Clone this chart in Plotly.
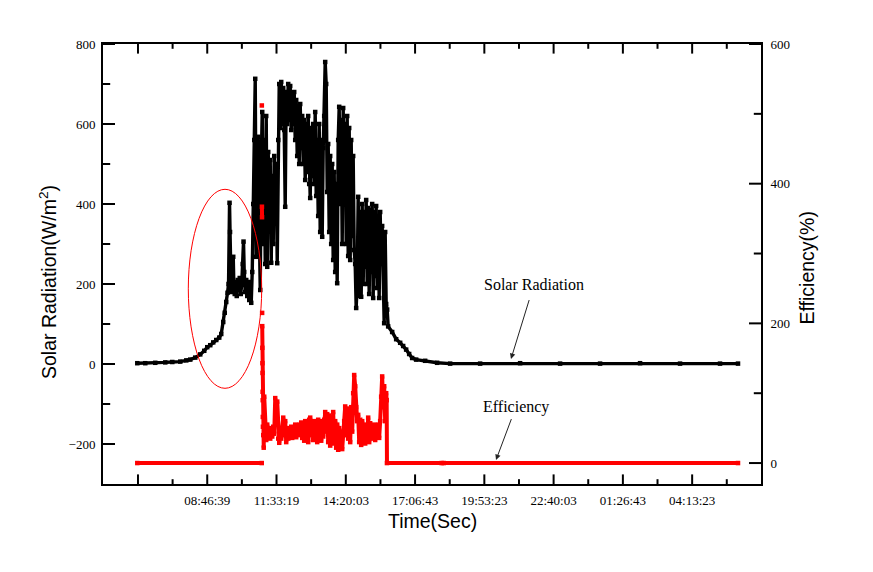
import plotly.graph_objects as go

# ---------------- data ----------------
LOG_START_S = 21500      # logging start, seconds after midnight (05:58:20)
LOG_STEP_S = 7.215       # logging interval, seconds

# Solar radiation (W/m2) : sample number -> value
rad_sample = [
    0, 160, 360, 560, 700, 860, 980, 1060, 1160, 1260,
    1340, 1400, 1460, 1520, 1580, 1640, 1680, 1720, 1750, 1780,
    1806, 1826, 1846, 1856, 1866, 1880, 1900, 1920, 1932, 1950,
    1970, 1990, 2010, 2030, 2050, 2070, 2090, 2110, 2126, 2140,
    2160, 2180, 2200, 2220, 2240, 2260, 2280,
    2300, 2320, 2340, 2360, 2380, 2400, 2420, 2440, 2460, 2480,
    2500, 2520, 2540, 2560, 2580, 2600, 2620, 2640, 2660, 2680,
    2700, 2720, 2740, 2760, 2780, 2800, 2820, 2840, 2860, 2880,
    2900, 2920, 2940, 2960, 2980, 3000, 3020, 3040, 3060, 3080,
    3100, 3120, 3140, 3160, 3180, 3200, 3220, 3240, 3260, 3280,
    3300, 3320, 3340, 3360, 3380, 3400, 3420, 3440, 3460, 3480,
    3500, 3520, 3540, 3560, 3580, 3600, 3620, 3640, 3660, 3680,
    3700, 3720, 3740, 3760, 3780, 3800, 3820, 3840, 3860, 3880,
    3900, 3920, 3940, 3960, 3980, 4000, 4020, 4040, 4060, 4080,
    4100, 4120, 4140, 4160, 4180, 4200, 4220, 4240, 4260, 4280,
    4300, 4320, 4340, 4360, 4380, 4400, 4420, 4440, 4460, 4480,
    4500, 4520, 4540, 4560, 4580, 4600, 4620, 4640, 4660, 4680,
    4700, 4720, 4740, 4760, 4780, 4800, 4820, 4840, 4860, 4880,
    4900, 4920, 4940, 4960, 4980, 5000, 5020,
    5100, 5180, 5260, 5320, 5380, 5440, 5500, 5580, 5760, 6000,
    6260, 6860, 7660, 8460, 9260, 10060, 10860, 11660, 12020,
]
rad_value = [
    2, 2, 3, 4, 5, 6, 9, 11, 16, 24,
    33, 42, 47, 54, 60, 66, 75, 105, 128, 155,
    178, 200, 403, 330, 210, 180, 200, 268, 200, 175,
    205, 170, 210, 185, 215, 175, 200, 250, 306, 230,
    180, 210, 170, 200, 160, 205, 153,
    230, 400, 560, 713, 268, 420, 568, 350, 185, 500,
    630, 300, 560, 250, 620, 243, 530, 380, 510, 253,
    470, 300, 520, 420, 500, 252, 560, 700, 590, 705,
    600, 690, 585, 393, 680, 600, 700, 610, 695, 585,
    670, 600, 680, 560, 660, 520, 640, 500, 650, 540,
    620, 500, 610, 460, 600, 480, 620, 450, 415, 590,
    470, 600, 450, 630, 420, 560, 370, 600, 330, 560,
    318, 540, 620, 755, 700, 430, 550, 330, 520, 300,
    500, 260, 480, 230, 450, 202, 560, 643, 400, 610,
    300, 640, 420, 600, 300, 620, 270, 590, 260, 560,
    320, 520, 285, 250, 140, 200, 418, 170, 380, 168,
    400, 200, 380, 243, 410, 200, 390, 175, 385, 230,
    400, 165, 380, 220, 395, 190, 370, 165, 380, 250,
    345, 252, 102, 330, 150, 136, 94,
    80, 62, 53, 45, 36, 25, 15, 11, 8, 3,
    1, 1, 2, 1, 1, 2, 1, 1, 1,
]

# Efficiency (%) : sample number -> value (None = missing record)
eff_sample = [
    0, 2490, 2491, 2492, 2493, 2494, 2496, 2497, 2498, 2499,
    2500, 2502, 2504, 2506, 2508, 2510, 2512, 2514, 2520, 2530, 2540,
    2560, 2580, 2600, 2620, 2640, 2660, 2680, 2700, 2720, 2740,
    2760, 2780, 2800, 2820, 2840, 2860, 2880, 2900, 2920, 2940,
    2960, 2980, 3000, 3020, 3040, 3060, 3080, 3100, 3120, 3140,
    3160, 3180, 3200, 3220, 3240, 3260, 3280, 3300, 3320, 3340,
    3360, 3380, 3400, 3420, 3440, 3460, 3480, 3500, 3520, 3540,
    3560, 3580, 3600, 3620, 3640, 3660, 3680, 3700, 3720, 3740,
    3760, 3780, 3800, 3820, 3840, 3860, 3880, 3900, 3920, 3940,
    3960, 3980, 4000, 4020, 4040, 4060, 4080, 4100, 4120, 4140,
    4160, 4180, 4200, 4220, 4240, 4260, 4280, 4300, 4320, 4340,
    4360, 4380, 4400, 4420, 4440, 4460, 4480, 4500, 4520, 4540,
    4560, 4580, 4600, 4620, 4640, 4660, 4680, 4700, 4720, 4740,
    4760, 4780, 4800, 4820, 4840, 4860, 4880, 4900, 4920, 4940,
    4960, 4980, 4990, 4996,
    6090, 6110, 6130, 12020,
]
eff_value = [
    0, 0, None, 512, None, 367, 352, None, 215, None,
    196, 165, 143, 129, 102, 90, 66, 52, 40, 22, 95,
    45, 33, 55, 40, 50, 35, 48, 38, 52, 42,
    93, 75, 88, 35, 29, 45, 35, 50, 65, 40,
    60, 30, 45, 35, 50, 38, 52, 36, 48, 40,
    55, 37, 50, 42, 55, 40, 58, 36, 55, 32,
    60, 38, 56, 30, 62, 65, 40, 58, 33, 60,
    36, 55, 30, 62, 35, 58, 32, 60, 38, 62,
    73, 45, 70, 30, 68, 25, 65, 35, 73, 28,
    60, 22, 55, 19, 50, 25, 45, 20, 40, 60,
    81, 40, 78, 35, 70, 30, 80, 45, 100, 126,
    110, 80, 60, 69, 30, 62, 26, 60, 35, 55,
    28, 50, 35, 65, 30, 57, 35, 52, 40, 55,
    33, 50, 38, 55, 36, 60, 95, 124, 80, 110,
    60, 100, 90, 0,
    0, None, 0, 0,
]

# x tick labels (clock time); first major tick is unlabeled
tick_labels = ["", "08:46:39", "11:33:19", "14:20:03", "17:06:43",
               "19:53:23", "22:40:03", "01:26:43", "04:13:23"]
first_tick_clock = "05:59:59"

left_ticks = [-200, 0, 200, 400, 600, 800]
left_minor = [-100, 100, 300, 500, 700]
right_ticks = [0, 200, 400, 600]
right_minor = [100, 300, 500]

X_RANGE = [16551, 111543]
Y_RANGE = [-300, 800]
Y2_RANGE = [-30, 600]


# ---------------- helpers ----------------
def clock_to_seconds(labels):
    out, prev, day = [], -1, 0
    for s in labels:
        h, m, sec = (int(v) for v in s.split(":"))
        val = h * 3600 + m * 60 + sec
        if prev >= 0 and val < prev:
            day += 86400
        prev = val
        out.append(val + day)
    return out


rad_t = [LOG_START_S + LOG_STEP_S * n for n in rad_sample]
eff_t = [LOG_START_S + LOG_STEP_S * n for n in eff_sample]

major_vals = clock_to_seconds([first_tick_clock] + tick_labels[1:])
minor_vals = [(a + b) / 2 for a, b in zip(major_vals[:-1], major_vals[1:])]
minor_vals.append(major_vals[-1] + (major_vals[-1] - major_vals[-2]) / 2)

# ---------------- figure ----------------
W, H = 873, 572
ML, MR, MT, MB = 103, 112, 44, 88
PW, PH = W - ML - MR, H - MT - MB

# data units per pixel on each axis
XU = (X_RANGE[1] - X_RANGE[0]) / PW
YU = (Y_RANGE[1] - Y_RANGE[0]) / PH


def px(x):
    return (x - ML) / PW


def py(y):
    return (H - MB - y) / PH


fig = go.Figure()
fig.add_trace(go.Scatter(
    x=rad_t, y=rad_value, mode="lines+markers", yaxis="y",
    line=dict(color="black", width=3.4),
    marker=dict(symbol="square", size=4.5, color="black"),
    showlegend=False))
fig.add_trace(go.Scatter(
    x=eff_t, y=eff_value, mode="lines+markers", yaxis="y2",
    line=dict(color="#ff0000", width=4),
    marker=dict(symbol="square", size=4.5, color="#ff0000"),
    showlegend=False))


# inward tick marks, placed on the axis scales at the tick values
def tick_marks(xs, ys, symbol, length, yaxis="y"):
    fig.add_trace(go.Scatter(
        x=xs, y=ys, mode="markers", yaxis=yaxis, cliponaxis=False,
        marker=dict(symbol=symbol, size=length,
                    line=dict(width=2, color="black")),
        showlegend=False, hoverinfo="skip"))


# x axis: bottom and mirrored top
for vals, ln in [(major_vals, 8), (minor_vals, 4)]:
    half = ln / 2 * YU
    tick_marks(vals, [Y_RANGE[0] + half] * len(vals), "line-ns", ln)
    tick_marks(vals, [Y_RANGE[1] - half] * len(vals), "line-ns", ln)
# left y axis
for vals, ln in [(left_ticks, 10), (left_minor, 6)]:
    tick_marks([X_RANGE[0] + ln / 2 * XU] * len(vals), vals, "line-ew", ln)
# right y axis
for vals, ln in [(right_ticks, 10), (right_minor, 6)]:
    tick_marks([X_RANGE[1] - ln / 2 * XU] * len(vals), vals, "line-ew", ln,
               yaxis="y2")

tickfont = dict(family="Liberation Serif", size=13, color="black")

fig.update_layout(
    width=W, height=H,
    margin=dict(l=ML, r=MR, t=MT, b=MB),
    paper_bgcolor="white", plot_bgcolor="white",
    showlegend=False,
    xaxis=dict(range=X_RANGE, tickmode="array",
               tickvals=major_vals, ticktext=tick_labels, ticks="",
               showline=True, linewidth=2, linecolor="black",
               mirror=True, showgrid=False, zeroline=False,
               tickfont=tickfont, ticklabelstandoff=3),
    yaxis=dict(range=Y_RANGE, tickmode="array", tickvals=left_ticks,
               ticks="", showline=True, linewidth=2, linecolor="black",
               showgrid=False, zeroline=False, tickfont=tickfont,
               ticklabelstandoff=3),
    yaxis2=dict(range=Y2_RANGE, overlaying="y", side="right",
                tickmode="array", tickvals=right_ticks, ticks="",
                showline=True, linewidth=2, linecolor="black",
                showgrid=False, zeroline=False, tickfont=tickfont,
                ticklabelstandoff=5),
)

title_font = dict(family="Liberation Sans", size=19.5, color="black")
serif = dict(family="Liberation Serif", size=16, color="black")
fig.add_annotation(text="Solar Radiation(W/m<sup>2</sup>)", xref="paper", yref="paper",
                   x=px(48), y=py(282), textangle=-90, showarrow=False,
                   font=title_font, xanchor="center", yanchor="middle")
fig.add_annotation(text="Efficiency(%)", xref="paper", yref="paper",
                   x=px(806), y=py(268.5), textangle=-90, showarrow=False,
                   font=title_font, xanchor="center", yanchor="middle")
fig.add_annotation(text="Time(Sec)", xref="paper", yref="paper",
                   x=px(432.5), y=py(521), showarrow=False,
                   font=title_font, xanchor="center", yanchor="middle")
# labelled arrows: (text, text centre x, y, arrow head x, y, gap at tail)
for label, cx, cy, hx, hy, gap in [("Solar Radiation", 534, 284.3, 511, 359, 6),
                                   ("Efficiency", 516, 406.7, 496, 460, 2)]:
    fig.add_annotation(text=label, xref="paper", yref="paper",
                       x=px(hx), y=py(hy), ax=cx - hx, ay=cy - hy,
                       showarrow=True, arrowhead=2, arrowsize=1.1,
                       arrowwidth=1, arrowcolor="#222222", standoff=0,
                       startstandoff=gap, font=serif)

fig.add_shape(type="circle", xref="paper", yref="paper",
              x0=px(188.3), x1=px(261.7), y0=py(388.3), y1=py(189.3),
              line=dict(color="#ff0000", width=1))

fig.write_html("out.html")
